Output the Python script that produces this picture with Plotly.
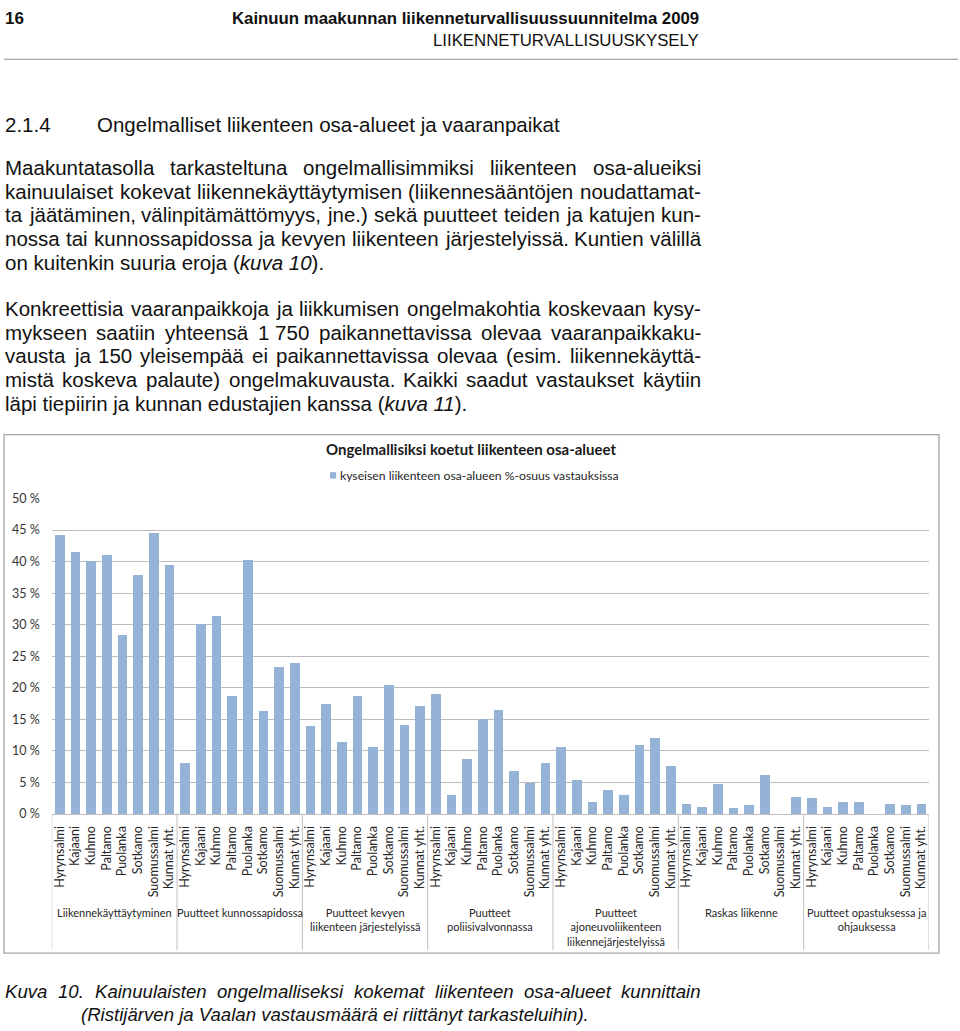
import plotly.graph_objects as go

W, H = 960, 1031

# ---------------- data ----------------
towns = ["Hyrynsalmi", "Kajaani", "Kuhmo", "Paltamo", "Puolanka",
         "Sotkamo", "Suomussalmi", "Kunnat yht."]
groups = ["Liikennekäyttäytyminen",
          "Puutteet kunnossapidossa",
          "Puutteet kevyen<br>liikenteen järjestelyissä",
          "Puutteet<br>poliisivalvonnassa",
          "Puutteet<br>ajoneuvoliikenteen<br>liikennejärjestelyissä",
          "Raskas liikenne",
          "Puutteet opastuksessa ja<br>ohjauksessa"]

v_liikennekayttaytyminen = [44.1, 41.4, 40.0, 41.0, 28.3, 37.8, 44.5, 39.4]
v_kunnossapito = [8.1, 30.1, 31.3, 18.6, 40.2, 16.2, 23.2, 23.8]
v_kevyt_liikenne = [13.9, 17.3, 11.4, 18.7, 10.5, 20.4, 14.0, 17.1]
v_poliisivalvonta = [18.9, 2.9, 8.6, 15.0, 16.4, 6.7, 4.8, 8.0]
v_ajoneuvoliikenne = [10.6, 5.4, 1.9, 3.7, 3.0, 10.8, 12.0, 7.5]
v_raskas_liikenne = [1.6, 1.1, 4.7, 0.9, 1.4, 6.1, 0.0, 2.6]
v_opastus = [2.4, 1.1, 1.9, 1.9, 0.0, 1.6, 1.4, 1.6]

series = [v_liikennekayttaytyminen, v_kunnossapito, v_kevyt_liikenne,
          v_poliisivalvonta, v_ajoneuvoliikenne, v_raskas_liikenne, v_opastus]

y_ticks = [0, 5, 10, 15, 20, 25, 30, 35, 40, 45, 50]
y_ticktext = [f"{t} %" for t in y_ticks]

chart_title = "Ongelmallisiksi koetut liikenteen osa-alueet"
legend_text = "kyseisen liikenteen osa-alueen %-osuus vastauksissa"

# ---------------- page text ----------------
header_no = "16"
header_title = "Kainuun maakunnan liikenneturvallisuussuunnitelma 2009"
header_sub = "LIIKENNETURVALLISUUSKYSELY"
heading_no = "2.1.4"
heading_text = "Ongelmalliset liikenteen osa-alueet ja vaaranpaikat"

para1 = ["Maakuntatasolla tarkasteltuna ongelmallisimmiksi liikenteen osa-alueiksi",
         "kainuulaiset kokevat liikennekäyttäytymisen (liikennesääntöjen noudattamat-",
         "ta jäätäminen, välinpitämättömyys, jne.) sekä puutteet teiden ja katujen kun-",
         "nossa tai kunnossapidossa ja kevyen liikenteen järjestelyissä. Kuntien välillä",
         "on kuitenkin suuria eroja (<i>kuva 10</i>)."]
para2 = ["Konkreettisia vaaranpaikkoja ja liikkumisen ongelmakohtia koskevaan kysy-",
         "mykseen saatiin yhteensä 1\u00a0750 paikannettavissa olevaa vaaranpaikkaku-",
         "vausta ja 150 yleisempää ei paikannettavissa olevaa (esim. liikennekäyttä-",
         "mistä koskeva palaute) ongelmakuvausta. Kaikki saadut vastaukset käytiin",
         "läpi tiepiirin ja kunnan edustajien kanssa (<i>kuva 11</i>)."]
caption1 = "Kuva 10. Kainuulaisten ongelmalliseksi kokemat liikenteen osa-alueet kunnittain"
caption2 = "(Ristijärven ja Vaalan vastausmäärä ei riittänyt tarkasteluihin)."

# Arial / Liberation Sans advance widths (1/1000 em) for justification
AW = {' ': 278, '\u00a0': 278, '(': 333, ')': 333, ',': 278, '-': 333, '.': 278, '%': 889,
      'A': 667, 'B': 667, 'C': 722, 'D': 722, 'E': 667, 'F': 611, 'G': 778, 'H': 722,
      'I': 278, 'J': 500, 'K': 667, 'L': 556, 'M': 833, 'N': 722, 'O': 778, 'P': 667,
      'Q': 778, 'R': 722, 'S': 667, 'T': 611, 'U': 722, 'V': 667, 'W': 944, 'X': 667,
      'Y': 667, 'Z': 611,
      'a': 556, 'b': 556, 'c': 500, 'd': 556, 'e': 556, 'f': 278, 'g': 556, 'h': 556,
      'i': 222, 'j': 222, 'k': 500, 'l': 222, 'm': 833, 'n': 556, 'o': 556, 'p': 556,
      'q': 556, 'r': 333, 's': 500, 't': 278, 'u': 556, 'v': 500, 'w': 722, 'x': 500,
      'y': 500, 'z': 500, 'ä': 556, 'ö': 556, 'å': 556}
for d in "0123456789":
    AW[d] = 556


def tw(s, size):
    s = s.replace("<i>", "").replace("</i>", "")
    return sum(AW.get(c, 556) for c in s) * size / 1000.0


annotations = []


def px_x(x):
    return x / W


def px_y(y):
    return 1 - y / H


def add_text(text, x, y, size, family="Liberation Sans", color="#111111",
             anchor="left", italic=False, bold=False):
    t = text
    if bold:
        t = f"<b>{t}</b>"
    if italic:
        t = f"<i>{t}</i>"
    annotations.append(dict(text=t, x=px_x(x), y=px_y(y), xref="paper", yref="paper",
                            xanchor=anchor, yanchor="middle", showarrow=False,
                            borderpad=0, font=dict(family=family, size=size, color=color)))


def add_justified(line, x0, x1, y, size, italic=False):
    words = line.split(" ")
    widths = [tw(w, size) for w in words]
    gap = (x1 - x0 - sum(widths)) / max(len(words) - 1, 1)
    gap = max(gap, 0.6 * 278 * size / 1000)
    x = x0
    for w, wd in zip(words, widths):
        add_text(w, x, y, size, italic=italic)
        x += wd + gap


BODY = 20.5
# header
add_text(header_no, 4, 11, 17, bold=True)
add_text(header_title, 700, 11, 16.8, anchor="right", bold=True)
add_text(header_sub, 700, 33, 16.8, anchor="right")
# heading
add_text(heading_no, 4, 118, BODY)
add_text(heading_text, 96, 118, BODY)
# paragraphs
y = 162
for i, line in enumerate(para1):
    if i < len(para1) - 1:
        add_justified(line, 4, 700, y, BODY)
    else:
        add_text(line, 4, y, BODY)
    y += 24
y = 305
for i, line in enumerate(para2):
    if i < len(para2) - 1:
        add_justified(line, 4, 700, y, BODY)
    else:
        add_text(line, 4, y, BODY)
    y += 24
# caption
add_justified(caption1, 4, 700, 998, 18.6, italic=True)
add_text(caption2, 80, 1021, 18.6, italic=True)

# ---------------- chart ----------------
CH_FONT = "Lato"
x_left, x_right = 51.7, 929.0
y_zero, y_top = 818.0, 497.7

xs, ys, labels = [], [], []
for g, vals in enumerate(series):
    for i, v in enumerate(vals):
        xs.append(g * len(towns) + i)
        ys.append(v)
        labels.append(towns[i])

n_bars = len(xs)

fig = go.Figure()
fig.add_trace(go.Bar(x=xs, y=ys, width=0.6, marker=dict(color="#95b3d7", line=dict(width=0)),
                     name=legend_text, showlegend=False,
                     hovertemplate="%{y:.1f} %<extra></extra>"))

# chart title and legend
add_text(chart_title, 471, 448, 15, family=CH_FONT, color="#1a1a1a", anchor="center", bold=True)
add_text(legend_text, 339, 474, 12.2, family=CH_FONT, color="#262626")

# group labels
for g, name in enumerate(groups):
    annotations.append(dict(text=name, x=g * len(towns) + (len(towns) - 1) / 2, xref="x",
                            y=px_y(909), yref="paper", yanchor="top", xanchor="center",
                            showarrow=False, align="center",
                            font=dict(family=CH_FONT, size=11, color="#262626")))

shapes = []
# chart frame
shapes.append(dict(type="rect", xref="paper", yref="paper",
                   x0=px_x(4), x1=px_x(939), y0=px_y(959), y1=px_y(433),
                   line=dict(color="#a6a6a6", width=1.3), fillcolor="rgba(0,0,0,0)"))
# header rule
shapes.append(dict(type="line", xref="paper", yref="paper",
                   x0=px_x(4), x1=px_x(958), y0=px_y(52), y1=px_y(52),
                   line=dict(color="#8c8c8c", width=1)))
# legend swatch
shapes.append(dict(type="rect", xref="paper", yref="paper",
                   x0=px_x(330), x1=px_x(336), y0=px_y(477.5), y1=px_y(471),
                   line=dict(width=0), fillcolor="#95b3d7"))
# group dividers in the category area
for g in range(len(groups) + 1):
    xv = g * len(towns) - 0.5
    shapes.append(dict(type="line", xref="x", yref="paper", x0=xv, x1=xv,
                       y0=px_y(y_zero), y1=px_y(956),
                       line=dict(color="#bfbfbf", width=1)))

fig.update_layout(
    width=W, height=H,
    margin=dict(l=0, r=0, t=0, b=0),
    paper_bgcolor="white", plot_bgcolor="white",
    showlegend=False,
    bargap=0,
    xaxis=dict(domain=[px_x(x_left), px_x(x_right)], range=[-0.5, n_bars - 0.5],
               tickmode="array", tickvals=xs, ticktext=labels, tickangle=-90,
               tickfont=dict(family=CH_FONT, size=12.5, color="#262626"),
               ticks="", ticklabelstandoff=6,
               showgrid=False, zeroline=False, showline=True,
               linecolor="#bfbfbf", linewidth=1, fixedrange=True),
    yaxis=dict(domain=[px_y(y_zero), px_y(y_top)], range=[0, 50],
               tickmode="array", tickvals=y_ticks, ticktext=y_ticktext,
               tickfont=dict(family=CH_FONT, size=12.5, color="#333333"),
               ticks="", ticklabelstandoff=11,
               showgrid=True, gridcolor="#bdbdbd", gridwidth=1,
               zeroline=False, showline=False, fixedrange=True),
    annotations=annotations,
    shapes=shapes,
)

fig.write_html("out.html")
